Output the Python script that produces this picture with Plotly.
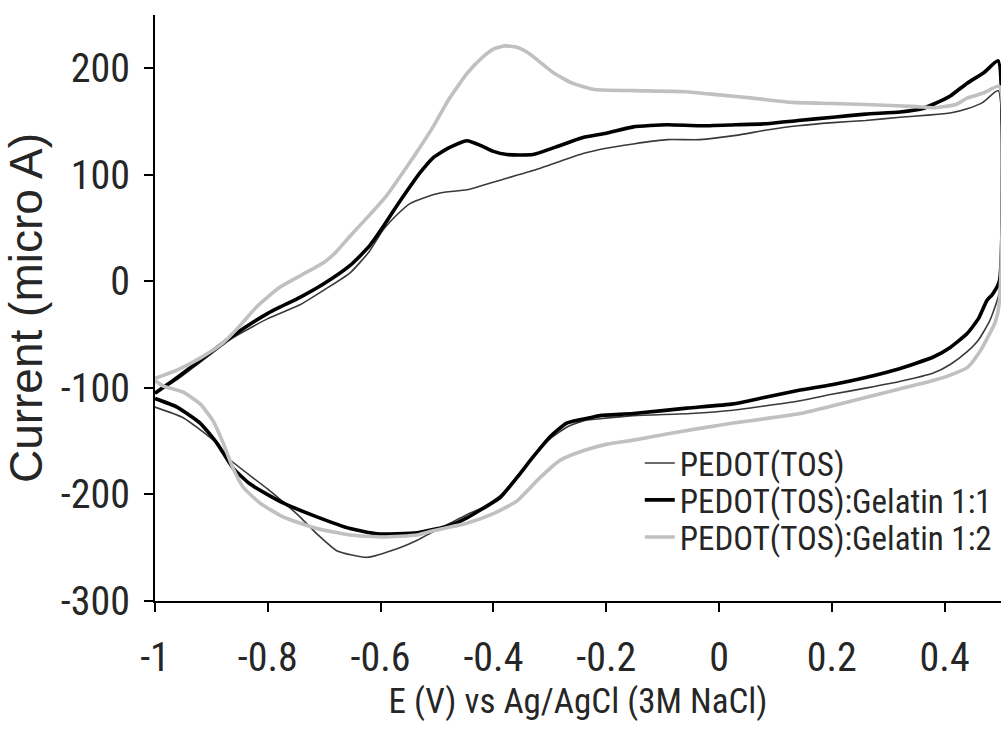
import plotly.graph_objects as go

# ---------------- data ----------------
# PEDOT(TOS)  (thin dark line): anodic sweep (left->right) then cathodic sweep (right->left)
pedot_x = [-1.00, -0.96, -0.92, -0.862, -0.80, -0.743, -0.70, -0.654, -0.62, -0.596, -0.57, -0.548, -0.52,
           -0.495, -0.447, -0.42, -0.388, -0.33, -0.28, -0.241, -0.20, -0.152, -0.092, -0.034, 0.03, 0.085,
           0.14, 0.202, 0.26, 0.321, 0.37, 0.41, 0.44, 0.468, 0.495,
           0.497, 0.48, 0.46, 0.44, 0.41, 0.38, 0.32, 0.262, 0.20, 0.144, 0.08, 0.025, -0.05, -0.152, -0.211,
           -0.241, -0.27, -0.30, -0.33, -0.358, -0.388, -0.418, -0.447, -0.477, -0.507, -0.535, -0.566,
           -0.624, -0.677, -0.713, -0.743, -0.80, -0.868, -0.89, -0.95, -1.00]
pedot_y = [-105, -92, -76, -53, -35, -22, -8, 8, 28, 48, 63, 73, 79,
           83, 86, 90, 95, 104, 113, 120, 125, 129, 133, 133, 137, 142,
           146, 149, 151, 154, 156, 158, 162, 168, 179,
           -10, -37, -55, -66, -78, -86, -94, -100, -106, -112, -117, -121, -124, -126, -129,
           -131, -137, -148, -165, -183, -201, -212, -219, -227, -235, -243, -250,
           -259, -253, -237, -221, -195, -167, -152, -128, -118]

# PEDOT(TOS):Gelatin 1:1  (thick black line)
gel11_x = [-1.00, -0.96, -0.92, -0.862, -0.80, -0.743, -0.70, -0.654, -0.62, -0.596, -0.575, -0.553, -0.53,
           -0.507, -0.48, -0.447, -0.42, -0.40, -0.376, -0.33, -0.29, -0.241, -0.20, -0.152, -0.092, -0.034,
           0.03, 0.085, 0.14, 0.202, 0.26, 0.321, 0.36, 0.379, 0.41, 0.44, 0.47, 0.495,
           0.497, 0.485, 0.475, 0.46, 0.44, 0.41, 0.38, 0.32, 0.262, 0.20, 0.144, 0.08, 0.025, -0.057,
           -0.152, -0.211, -0.229, -0.27, -0.30, -0.33, -0.358, -0.388, -0.418, -0.447, -0.477, -0.535,
           -0.606, -0.654, -0.713, -0.773, -0.832, -0.862, -0.89, -0.92, -0.961, -1.00]
gel11_y = [-105, -90, -74, -51, -30, -15, -2, 15, 33, 51, 68, 85, 102,
           116, 125, 132, 127, 122, 119, 119, 126, 135, 139, 145, 147, 146,
           147, 148, 151, 154, 157, 159, 162, 166, 174, 186, 196, 207,
           0, -12, -18, -35, -49, -62, -71, -82, -90, -97, -102, -109, -115, -119,
           -124, -126, -128, -133, -146, -165, -184, -203, -213, -222, -229, -236,
           -237, -232, -221, -208, -190, -175, -152, -133, -118, -110]

# PEDOT(TOS):Gelatin 1:2  (thick light grey line)
gel12_x = [-1.00, -0.96, -0.92, -0.88, -0.85, -0.82, -0.78, -0.74, -0.70, -0.68, -0.65, -0.62, -0.59,
           -0.566, -0.54, -0.507, -0.48, -0.447, -0.42, -0.40, -0.38, -0.36, -0.34, -0.32, -0.294, -0.26,
           -0.22, -0.15, -0.06, 0.00, 0.06, 0.13, 0.20, 0.26, 0.35, 0.38, 0.42, 0.44, 0.47, 0.497,
           0.497, 0.49, 0.48, 0.46, 0.44, 0.41, 0.38, 0.32, 0.26, 0.20, 0.144, 0.08, 0.025, -0.034, -0.10,
           -0.152, -0.20, -0.241, -0.282, -0.317, -0.358, -0.40, -0.447, -0.507, -0.535, -0.596, -0.654,
           -0.713, -0.773, -0.814, -0.844, -0.862, -0.879, -0.897, -0.92, -0.95, -0.986, -1.00]
gel12_y = [-91, -83, -72, -58, -42, -24, -6, 6, 18, 27, 45, 62, 80,
           98, 118, 145, 170, 195, 210, 218, 221, 220, 215, 207, 196, 186,
           180, 179, 178, 175, 172, 168, 167, 166, 164, 163, 166, 172, 177, 183,
           -20, -38, -49, -68, -81, -88, -93, -101, -109, -117, -124, -129, -133, -138, -144,
           -149, -153, -159, -168, -184, -206, -218, -227, -234, -238, -240, -238,
           -232, -221, -208, -193, -175, -152, -131, -115, -104, -98, -93]

series_names = ["PEDOT(TOS)", "PEDOT(TOS):Gelatin 1:1", "PEDOT(TOS):Gelatin 1:2"]
x_ticks = [-1, -0.8, -0.6, -0.4, -0.2, 0, 0.2, 0.4]
x_tick_labels = ["-1", "-0.8", "-0.6", "-0.4", "-0.2", "0", "0.2", "0.4"]
y_ticks = [-300, -200, -100, 0, 100, 200]
y_tick_labels = ["-300", "-200", "-100", "0", "100", "200"]

# ---------------- figure ----------------
COND = "Roboto Condensed"
REG = "Liberation Sans"
TXT = "#262626"

fig = go.Figure()
styles = [
    dict(color="#3a3a3a", width=1.6),
    dict(color="#000000", width=3.6),
    dict(color="#c0c0c0", width=3.6),
]
data = [(pedot_x, pedot_y), (gel11_x, gel11_y), (gel12_x, gel12_y)]
legend_ids = ["legend", "legend2", "legend3"]
for (xs, ys), name, st, lg in zip(data, series_names, styles, legend_ids):
    fig.add_trace(go.Scatter(
        x=xs, y=ys, mode="lines", name=name,
        line=dict(color=st["color"], width=st["width"], shape="spline", smoothing=0.5),
        legend=lg, hoverinfo="skip",
    ))

leg_common = dict(xanchor="left", yanchor="middle", bgcolor="rgba(0,0,0,0)",
                  borderwidth=0, font=dict(family=COND, size=33, color=TXT),
                  itemwidth=30)
fig.update_layout(
    width=1007, height=735,
    margin=dict(l=155, r=6, t=15, b=134),
    paper_bgcolor="white", plot_bgcolor="white",
    showlegend=True,
    legend=dict(x=0.573, y=0.2355, **leg_common),
    legend2=dict(x=0.573, y=0.1724, **leg_common),
    legend3=dict(x=0.573, y=0.1092, **leg_common),
    xaxis=dict(
        range=[-1, 0.5], tickmode="array", tickvals=x_ticks, ticktext=x_tick_labels,
        showgrid=False, zeroline=False, showline=True, linecolor="black", linewidth=2,
        ticks="outside", ticklen=9, tickwidth=2, tickcolor="black",
        tickfont=dict(family=COND, size=40, color=TXT), ticklabelstandoff=11,
        title=dict(text="E (V) vs Ag/AgCl (3M NaCl)", font=dict(family=COND, size=35, color=TXT),
                   standoff=8),
        automargin=False,
    ),
    yaxis=dict(
        range=[-300, 250], tickmode="array", tickvals=y_ticks, ticktext=y_tick_labels,
        showgrid=False, zeroline=False, showline=True, linecolor="black", linewidth=2,
        ticks="outside", ticklen=9, tickwidth=2, tickcolor="black",
        tickfont=dict(family=COND, size=40, color=TXT), ticklabelstandoff=6,
        title=dict(text="Current (micro A)", font=dict(family=REG, size=46, color=TXT),
                   standoff=30),
        automargin=False,
    ),
)

fig.write_html("out.html")
